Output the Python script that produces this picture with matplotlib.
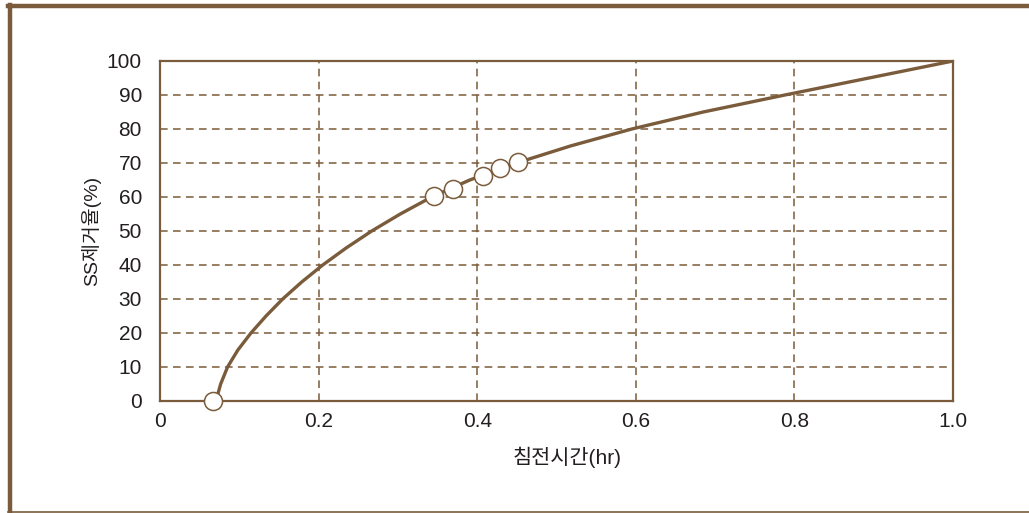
import matplotlib
matplotlib.use("Agg")
import matplotlib.pyplot as plt
from matplotlib.lines import Line2D

plt.rcParams['font.family'] = ['Liberation Sans', 'Noto Sans CJK KR', 'DejaVu Sans']

brown = '#7a5b3b'

# curve (settling time hr, SS removal %)
curve_x = [0.0705, 0.0765, 0.0852, 0.0982, 0.1147, 0.1337, 0.1547,
           0.1787, 0.2052, 0.2347, 0.2670, 0.3030, 0.3426, 0.3906,
           0.4495, 0.5175, 0.5950, 0.6850, 0.7880, 0.8940, 1.0000]
curve_y = [0, 5, 10, 15, 20, 25, 30,
           35, 40, 45, 50, 55, 60, 65,
           70, 75, 80, 85, 90, 95, 100]

# measured points
pts_x = [0.067, 0.346, 0.369, 0.407, 0.429, 0.451]
pts_y = [0, 60.3, 62.4, 66.3, 68.4, 70.4]

xticks = [0, 0.2, 0.4, 0.6, 0.8, 1.0]
xticklabels = ['0', '0.2', '0.4', '0.6', '0.8', '1.0']
yticks = list(range(0, 101, 10))

fig = plt.figure(figsize=(10.29, 5.13), dpi=100)
ax = fig.add_axes([160 / 1029, 1 - 401 / 513, 793 / 1029, 340 / 513])

ax.plot(curve_x, curve_y, color=brown, lw=2.4, solid_capstyle='round',
        solid_joinstyle='round', zorder=3)
ax.plot(pts_x, pts_y, 'o', ms=13, mfc='white', mec=brown, mew=1.1,
        clip_on=False, zorder=4)

ax.set_xlim(0, 1.0)
ax.set_ylim(0, 100)
ax.set_xticks(xticks)
ax.set_xticklabels(xticklabels)
ax.set_yticks(yticks)
ax.tick_params(length=0, labelsize=15, colors='#231f20')
ax.tick_params(axis='y', pad=13)
ax.tick_params(axis='x', pad=8)

for g in [0.2, 0.4, 0.6, 0.8]:
    ax.axvline(g, color=brown, lw=1.1, ls=(0, (5, 3.5)), zorder=1)
for g in range(10, 100, 10):
    ax.axhline(g, color=brown, lw=1.1, ls=(0, (5, 3.5)), zorder=1)

for s in ax.spines.values():
    s.set_color(brown)
    s.set_linewidth(1.6)

ax.set_xlabel('침전시간(hr)', fontsize=15, color='#231f20')
ax.xaxis.set_label_coords((567 - 160) / 793, -(447 - 401) / 340)
ax.set_ylabel('SS제거율(%)', fontsize=14, color='#231f20')
ax.yaxis.set_label_coords(-(160 - 101) / 793, 0.5)

# brown frame round the figure
fig.add_artist(Line2D([8 / 1029, 1], [1 - 6 / 513, 1 - 6 / 513], color=brown, lw=3.2,
                      transform=fig.transFigure))
fig.add_artist(Line2D([10 / 1029, 10 / 1029], [1 - 5 / 513, 0], color=brown, lw=3.2,
                      transform=fig.transFigure))
fig.add_artist(Line2D([8 / 1029, 1], [1.5 / 513, 1.5 / 513], color=brown, lw=1.2,
                      transform=fig.transFigure))

fig.savefig('out.png', dpi=100)
